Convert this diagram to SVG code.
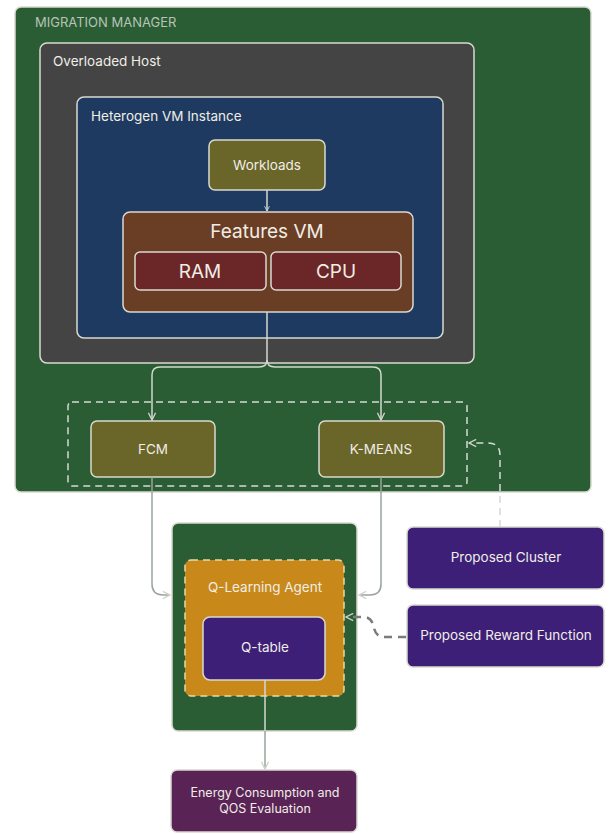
<svg xmlns="http://www.w3.org/2000/svg" width="609" height="834" viewBox="0 0 609 834">
<defs>
<style>
text{font-family:Inter,"Noto Sans","Liberation Sans",sans-serif;fill:#f0ede6;}
.box{stroke:#d9d9d0;stroke-width:1.5;}
.green{fill:#2b5d35;}
.lbl{font-size:13.5px;}
.big{font-size:19px;}
.mid{text-anchor:middle;dominant-baseline:central;}
.conn{fill:none;stroke:#d3d8d0;stroke-width:1.5;}
.grey{stroke:#9ba39b;}
.dash{fill:none;stroke:#d6dad2;stroke-width:1.5;stroke-dasharray:7 5;}
</style>
<marker id="ah" viewBox="0 0 10 10" refX="9" refY="5" markerWidth="9" markerHeight="9" orient="auto" markerUnits="userSpaceOnUse">
<path d="M1,1 L9,5 L1,9" fill="none" stroke="#cfd3cc" stroke-width="1.5"/>
</marker>
<marker id="ahs" viewBox="0 0 10 10" refX="9" refY="5" markerWidth="6" markerHeight="6" orient="auto" markerUnits="userSpaceOnUse">
<path d="M1,1 L9,5 L1,9" fill="none" stroke="#cfd3cc" stroke-width="1.5"/>
</marker>
</defs>
<rect width="609" height="834" fill="#ffffff"/>

<g id="migration-manager">
<rect class="box green" x="15" y="7" width="576" height="485" rx="6"/>
<text x="35" y="27" style="font-size:13px;fill:#b7c3b6">MIGRATION MANAGER</text>
</g>
<g id="overloaded-host">
<rect class="box" x="40" y="43" width="434" height="320" rx="7" fill="#444444"/>
<text class="lbl" x="53" y="66">Overloaded Host</text>
</g>
<g id="heterogen-vm">
<rect class="box" x="77" y="97" width="366" height="241" rx="7" fill="#1e3a60"/>
<text class="lbl" x="91" y="121">Heterogen VM Instance</text>
</g>
<g id="workloads">
<rect class="box" x="209" y="140" width="116" height="50" rx="6" fill="#6a6529"/>
<text class="lbl mid" x="267" y="165">Workloads</text>
</g>
<g id="features-vm">
<rect class="box" x="123" y="212" width="290" height="100" rx="7" fill="#6a3e24"/>
<text class="big" x="267" y="238" text-anchor="middle">Features VM</text>
</g>
<g id="ram">
<rect class="box" x="135" y="252" width="131" height="38" rx="5" fill="#6b2627"/>
<text class="big" x="200" y="278" text-anchor="middle">RAM</text>
</g>
<g id="cpu">
<rect class="box" x="271" y="252" width="130" height="38" rx="5" fill="#6b2627"/>
<text class="big" x="336" y="278" text-anchor="middle">CPU</text>
</g>
<g id="cluster-group">
<rect class="dash" x="68" y="402" width="399" height="84" rx="4"/>
</g>
<g id="fcm">
<rect class="box" x="91" y="421" width="124" height="56" rx="6" fill="#6a6529"/>
<text class="lbl mid" x="153" y="449">FCM</text>
</g>
<g id="kmeans">
<rect class="box" x="319" y="421" width="125" height="56" rx="6" fill="#6a6529"/>
<text class="lbl mid" x="381" y="449">K-MEANS</text>
</g>
<g id="proposed-cluster">
<rect class="box" x="407" y="527" width="197" height="62" rx="6" fill="#3d1f78" stroke="#4a2d85"/>
<text class="lbl mid" x="506" y="557">Proposed Cluster</text>
</g>
<g id="proposed-reward">
<rect class="box" x="407" y="605" width="197" height="62" rx="6" fill="#3d1f78" stroke="#4a2d85"/>
<text class="lbl mid" x="506" y="635">Proposed Reward Function</text>
</g>
<g id="q-container">
<rect class="box green" x="172" y="523" width="185" height="208" rx="6"/>
</g>
<g id="q-learning-agent">
<rect x="185" y="560" width="159" height="136" rx="6" fill="#c8891a" stroke="#e8d9a8" stroke-width="1.5" stroke-dasharray="7 5"/>
<text class="lbl mid" x="265" y="587">Q-Learning Agent</text>
</g>
<g id="q-table">
<rect class="box" x="203" y="617" width="122" height="63" rx="7" fill="#3d1f78"/>
<text class="lbl mid" x="265" y="647">Q-table</text>
</g>
<g id="energy">
<rect class="box" x="171" y="770" width="186" height="62" rx="6" fill="#5a2356" stroke="#6a3a66"/>
<text x="265" y="797" text-anchor="middle" style="font-size:12.5px">Energy Consumption and</text>
<text x="265" y="813" text-anchor="middle" style="font-size:12.5px">QOS Evaluation</text>
</g>

<g id="connectors">
<path class="conn" d="M267,190 V211" marker-end="url(#ahs)"/>
<path class="conn" d="M267,312 V360 Q267,367 259,367 H160 Q152,367 152,375 V420" marker-end="url(#ah)"/>
<path class="conn" d="M267,360 Q267,367 275,367 H373 Q381,367 381,375 V420" marker-end="url(#ah)"/>
<path class="conn grey" d="M152,477 V584 Q152,595 163,595 H170" marker-end="url(#ah)"/>
<path class="conn grey" d="M381,477 V584 Q381,595 370,595 H359" marker-end="url(#ah)"/>
<path class="dash" d="M500,527 V455 Q500,443 488,443 H469" marker-end="url(#ah)"/>
<path d="M406,637 H384 Q376,637 374,628 Q372,617 364,617 H346" fill="none" stroke="#777d77" stroke-width="2.5" stroke-dasharray="8 6" marker-end="url(#ah)"/>
<path class="conn" d="M265,680 V731"/>
<path class="conn grey" d="M265,731 V769" marker-end="url(#ah)"/>
</g>
</svg>
